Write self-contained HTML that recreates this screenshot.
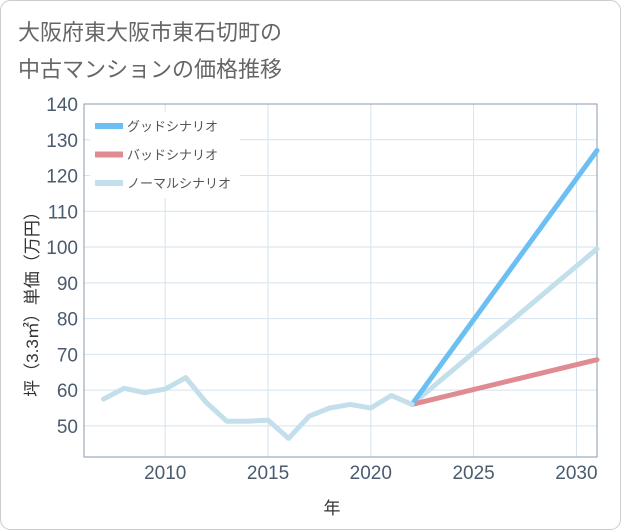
<!DOCTYPE html>
<html><head><meta charset="utf-8"><style>
body{margin:0;background:#fff}
svg{display:block;font-family:"Liberation Sans","Noto Sans CJK JP",sans-serif}
</style></head><body>
<svg id="c" width="621" height="530">
<rect x="0.5" y="0.5" width="620" height="529" rx="10" fill="#fff" stroke="#ccc"/>
<text x="18" y="40" font-size="22" fill="#666">大阪府東大阪市東石切町の</text>
<text x="18" y="77" font-size="22" fill="#666">中古マンションの価格推移</text>
<g id="grid"></g>
<g id="axes"></g>
<g id="series"></g>
<g id="legend"></g>
<text x="332" y="514" font-size="17" fill="#333" text-anchor="middle">年</text>
<text transform="translate(38,300) rotate(-90)" font-size="17" fill="#333" text-anchor="middle">坪（3.3㎡）単価（万円）</text>
</svg>
<script>
const years=[2007,2008,2009,2010,2011,2012,2013,2014,2015,2016,2017,2018,2019,2020,2021,2022];
const prices=[57.5,60.5,59.3,60.3,63.5,56.5,51.3,51.3,51.6,46.5,52.7,55,56,55,58.5,56];
const projYears=[2022,2031];
const good=[56,127];
const bad=[56,68.5];
const normal=[56,99.5];
const yTicks=[50,60,70,80,90,100,110,120,130,140];
const xTicks=[2010,2015,2020,2025,2030];
const L=84,R=597,T=104,B=457;
const x0=2006.05,x1=2031,y0=41.3,y1=140;
const X=v=>L+(v-x0)/(x1-x0)*(R-L);
const Y=v=>B-(v-y0)/(y1-y0)*(B-T);
const NS="http://www.w3.org/2000/svg";
function mk(p,t,a){const e=document.createElementNS(NS,t);for(const k in a)e.setAttribute(k,a[k]);document.getElementById(p).appendChild(e);return e;}
for(const t of yTicks){
 const l=mk('grid','line',{x1:L,x2:R,y1:Y(t),y2:Y(t),stroke:'#d4e3ee'});
 
 
 const tx=mk('axes','text',{x:L-6,y:Y(t)+7,'font-size':19,fill:'#4a5b6e','text-anchor':'end'});tx.textContent=t;
 
 
}
for(const t of xTicks){
 const l=mk('grid','line',{x1:X(t),x2:X(t),y1:T,y2:B,stroke:'#d4e3ee'});
 
 
 const tx=mk('axes','text',{x:X(t),y:B+22,'font-size':19,fill:'#4a5b6e','text-anchor':'middle'});tx.textContent=t;
 
 
}
const fr=mk('axes','rect',{x:L,y:T,width:R-L,height:B-T,fill:'none',stroke:'#8a9aab'});


function line(xs,ys,col,name){
 const p=mk('series','polyline',{points:xs.map((v,i)=>X(v)+','+Y(ys[i])).join(' '),fill:'none',stroke:col,'stroke-width':5,'stroke-linejoin':'round','stroke-linecap':'round'});
 
 
}
line(projYears,normal,'#c4dfec','normal-scenario-line');
line(projYears,bad,'#e08a92','bad-scenario-line');
line(projYears,good,'#6bbff2','good-scenario-line');
line(years,prices,'#c4dfec','historical-price-line');
const bg=mk('legend','rect',{x:90,y:112,width:150,height:86,fill:'#fff'});


const leg=[['グッドシナリオ','#6bbff2'],['バッドシナリオ','#e08a92'],['ノーマルシナリオ','#c4dfec']];
leg.forEach((d,i)=>{
 const y=126+i*28.5;
 const s=mk('legend','line',{x1:95,x2:123,y1:y,y2:y,stroke:d[1],'stroke-width':6});
 
 
 const t=mk('legend','text',{x:127,y:y+5,'font-size':13,fill:'#555'});t.textContent=d[0];
 
 
});
</script>
</body></html>
